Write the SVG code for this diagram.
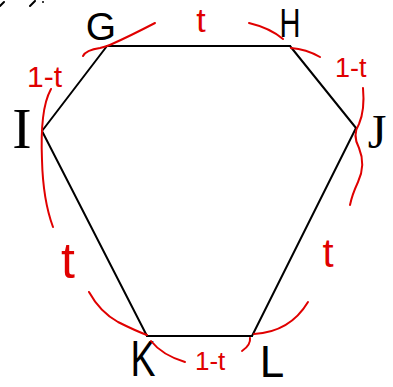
<svg xmlns="http://www.w3.org/2000/svg" width="393" height="387" viewBox="0 0 393 387">
<style>
.edge{stroke:#000;stroke-width:2;fill:none;stroke-linecap:round}
.arc{stroke:#e00000;stroke-width:2;fill:none;stroke-linecap:round;stroke-linejoin:round}
.lbl{font-family:"Liberation Sans",Arial,sans-serif;fill:#000;text-anchor:middle}
.rlbl{font-family:"Liberation Sans",Arial,sans-serif;fill:#e00000}
.ink{stroke:#000;stroke-width:2;fill:none;stroke-linecap:round}
</style>
<rect width="393" height="387" fill="#fff"/>
<path class="ink" d="M0,6 L4,2 M30,6 L35,1"/>
<circle cx="43" cy="2" r="1" fill="#000"/>
<g id="connectors">
<line class="edge" x1="107" y1="46" x2="290" y2="46"/>
<line class="edge" x1="290" y1="46" x2="356" y2="128"/>
<line class="edge" x1="356" y1="128" x2="252" y2="336"/>
<line class="edge" x1="252" y1="336" x2="147" y2="336"/>
<line class="edge" x1="147" y1="336" x2="42" y2="131"/>
<line class="edge" x1="42" y1="131" x2="107" y2="46"/>
</g>
<g id="G"><text class="lbl" x="101" y="40" font-size="39">G</text></g>
<g id="H"><text class="lbl" x="290" y="37" font-size="40" textLength="21" lengthAdjust="spacingAndGlyphs">H</text></g>
<g id="I"><text class="lbl" x="22" y="148" font-size="58" style="font-family:'Liberation Serif',serif">I</text></g>
<g id="J"><text class="lbl" x="377" y="148" font-size="48" style="font-family:'Liberation Serif',serif">J</text></g>
<g id="K"><text class="lbl" x="143" y="376" font-size="50" textLength="25" lengthAdjust="spacingAndGlyphs">K</text></g>
<g id="L"><text class="lbl" x="272" y="377" font-size="44">L</text></g>
<g id="annotations">
<path class="arc" d="M83,56 Q86,50 100,48 Q108,46 112,44 Q130,36 155,23"/>
<path class="arc" d="M249,23 Q270,28 283,39"/>
<path class="arc" d="M291,48 Q306,49 320,57"/>
<path class="arc" d="M51,89 Q45,100 43,118 Q41,135 42,160 Q43,200 53,227"/>
<path class="arc" d="M89,292 Q100,312 118,322 Q136,331 147,335"/>
<path class="arc" d="M151,341 Q162,355 185,362"/>
<path class="arc" d="M363,88 Q365,110 359,124 Q352,135 359,148 Q366,165 358,182 Q352,195 350,205"/>
<path class="arc" d="M308,302 Q290,332 254,334"/>
<path class="arc" d="M250,338 Q251,345 242,351"/>
<text class="rlbl" x="201" y="32" font-size="34" text-anchor="middle">t</text>
<text class="rlbl" x="27" y="87" font-size="30">1-t</text>
<text class="rlbl" x="335" y="77" font-size="27">1-t</text>
<text class="rlbl" x="68" y="278" font-size="50" text-anchor="middle">t</text>
<text class="rlbl" x="328" y="267" font-size="40" text-anchor="middle">t</text>
<text class="rlbl" x="195" y="370" font-size="26">1-t</text>
</g>
</svg>
